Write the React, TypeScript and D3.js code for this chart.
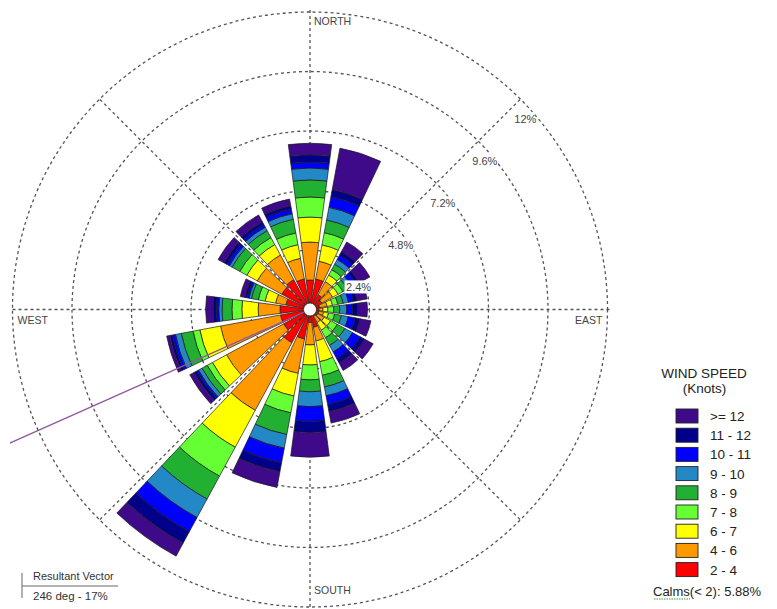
import React from 'react';
import * as d3 from 'd3';

// ---- data ----
const directions = [0, 18, 36, 54, 72, 90, 108, 126, 144, 162, 180, 198, 216, 234, 252, 270, 288, 306, 324, 342];
const speedLabels = ['2 - 4', '4 - 6', '6 - 7', '7 - 8', '8 - 9', '9 - 10', '10 - 11', '11 - 12', '>= 12'];
const speedColors = ['#ff0000', '#ff9900', '#ffff00', '#66ff33', '#22b033', '#2389c6', '#0000ff', '#00008b', '#3f0a8a'];

// percent frequency per direction, one array per speed class
const s2to4 = [1.19, 1.25, 0.68, 0.54, 0.4, 0.36, 0.36, 0.35, 0.3, 0.73, 0.52, 1.21, 1.53, 1.21, 1.21, 1.21, 0.99, 1.29, 1.37, 1.25];
const s4to6 = [1.53, 0.73, 0.6, 0.5, 0.3, 0.16, 0.2, 0.3, 0.3, 0.56, 0.91, 1.41, 3.1, 2.62, 2.46, 0.88, 0.42, 1.13, 1.13, 0.85];
const s6to7 = [1.01, 0.67, 0.3, 0.25, 0.22, 0.2, 0.2, 0.3, 0.35, 0.85, 0.81, 0.93, 1.69, 0.65, 0.85, 0.66, 0.43, 0.48, 0.48, 0.56];
const s7to8 = [0.81, 0.5, 0.25, 0.22, 0.22, 0.24, 0.25, 0.3, 0.35, 0.56, 0.6, 0.69, 1.33, 0.24, 0.28, 0.4, 0.28, 0.32, 0.32, 0.48];
const s8to9 = [0.69, 0.52, 0.25, 0.22, 0.22, 0.24, 0.28, 0.35, 0.35, 0.48, 0.48, 0.89, 1.05, 0.24, 0.48, 0.4, 0.28, 0.36, 0.32, 0.56];
const s9to10 = [0.48, 0.52, 0.22, 0.2, 0.22, 0.28, 0.28, 0.35, 0.3, 0.36, 0.6, 0.56, 0.85, 0.16, 0.24, 0.13, 0.1, 0.12, 0.16, 0.23];
const s10to11 = [0.24, 0.44, 0.2, 0.2, 0.2, 0.24, 0.28, 0.35, 0.3, 0.36, 0.6, 0.6, 0.65, 0.08, 0.12, 0.1, 0.08, 0.12, 0.12, 0.18];
const s11to12 = [0.28, 0.28, 0.15, 0.12, 0.15, 0.2, 0.2, 0.2, 0.2, 0.28, 0.44, 0.36, 0.52, 0.12, 0.1, 0.13, 0.08, 0.12, 0.12, 0.14];
const s12plus = [0.48, 1.71, 0.45, 0.5, 0.42, 0.4, 0.45, 0.4, 0.35, 0.48, 1.0, 0.65, 0.6, 0.2, 0.14, 0.3, 0.2, 0.28, 0.32, 0.28];

const ringTicks = [2.4, 4.8, 7.2, 9.6, 12];
const ringLabels = ['2.4%', '4.8%', '7.2%', '9.6%', '12%'];
const compassBearings = [0, 90, 180, 270];
const compassLabels = ['NORTH', 'EAST', 'SOUTH', 'WEST'];
const resultantDir = 246;
const resultantPct = 17;
const calmsPct = 5.88;

const classes = [s2to4, s4to6, s6to7, s7to8, s8to9, s9to10, s10to11, s11to12, s12plus];

export default function App() {
  const W = 777, H = 609;
  const cx = 310, cy = 309.5, R = 297.5;
  const r = d3.scaleLinear().domain([0, 12]).range([0, R]);
  const rad = (d: number) => (d * Math.PI) / 180;
  const pt = (b: number, rr: number): [number, number] => [cx + rr * Math.sin(rad(b)), cy - rr * Math.cos(rad(b))];
  const arc = d3.arc<any>();
  const half = 7.5;
  const font = 'Liberation Sans, Arial, sans-serif';

  const segs: { d: string; fill: string; key: string }[] = [];
  directions.forEach((dir, i) => {
    let acc = 0;
    classes.forEach((arr, k) => {
      const inner = acc;
      acc += arr[i];
      segs.push({
        key: `${i}-${k}`,
        fill: speedColors[k],
        d: arc({ innerRadius: r(inner), outerRadius: r(acc), startAngle: rad(dir - half), endAngle: rad(dir + half) }) as string,
      });
    });
  });

  const grid = { stroke: '#555', strokeWidth: 1.3, strokeDasharray: '3,3', fill: 'none' };
  const resEnd = pt(resultantDir, r(resultantPct));

  const legX = 676, legY0 = 409, legStep = 19.2;
  const legendOrder = d3.range(speedLabels.length).reverse();

  return (
    <div style={{ position: 'absolute', left: 0, top: 0 }}>
      <svg width={W} height={H} style={{ display: 'block', background: '#fff' }}>
        <defs>
          <clipPath id="plotclip">
            <rect x={10} y={0} width={W - 10} height={H} />
          </clipPath>
        </defs>
        {/* grid */}
        {ringTicks.map((t) => (
          <circle key={t} cx={cx} cy={cy} r={r(t)} {...grid} />
        ))}
        {[0, 90].map((b) => {
          const a = pt(b, R + 2), c = pt(b + 180, R + 2);
          return <line key={b} x1={a[0]} y1={a[1]} x2={c[0]} y2={c[1]} {...grid} />;
        })}
        {[45, 135, 225, 315].map((b) => {
          const a = pt(b, R);
          return <line key={b} x1={cx} y1={cy} x2={a[0]} y2={a[1]} {...grid} />;
        })}
        {/* bars */}
        <g transform={`translate(${cx},${cy})`}>
          {segs.map((s) => (
            <path key={s.key} d={s.d} fill={s.fill} stroke="#1a1a1a" strokeWidth={0.7} strokeLinejoin="round" />
          ))}
        </g>
        {/* resultant vector */}
        <line x1={cx} y1={cy} x2={resEnd[0]} y2={resEnd[1]} stroke="#8e5a9e" strokeWidth={1.3} clipPath="url(#plotclip)" />
        {/* center calm circle */}
        <circle cx={cx} cy={cy} r={6.5} fill="#fff" stroke="#222" strokeWidth={0.8} />
        {/* ring labels */}
        {ringTicks.map((t, i) => {
          const p = pt(45, r(t));
          const x = p[0] - 6, y = p[1] + 23.5;
          const w = ringLabels[i].length * 6.3 + 2;
          return (
            <g key={t}>
              <rect x={x - 1.5} y={y - 10.5} width={w} height={13} fill="#fff" />
              <text x={x} y={y} fontFamily={font} fontSize={11} fill="#444">{ringLabels[i]}</text>
            </g>
          );
        })}
        {/* compass labels */}
        {compassBearings.map((b, i) => {
          let x = 0, y = 0, anchor: any = 'start';
          if (b === 0) { x = cx + 4; y = cy - R + 13; }
          else if (b === 180) { x = cx + 4; y = cy + R - 13; }
          else if (b === 270) { x = cx - R + 5; y = cy + 14; }
          else { x = cx + R - 5; y = cy + 14; anchor = 'end'; }
          return <text key={b} x={x} y={y} textAnchor={anchor} fontFamily={font} fontSize={10.5} fill="#444">{compassLabels[i]}</text>;
        })}
        {/* legend */}
        <text x={704} y={378} textAnchor="middle" fontFamily={font} fontSize={13.5} fill="#222">WIND SPEED</text>
        <text x={704.5} y={393} textAnchor="middle" fontFamily={font} fontSize={13.5} fill="#222">(Knots)</text>
        {legendOrder.map((k, j) => (
          <g key={k}>
            <rect x={legX} y={legY0 + j * legStep} width={22} height={14} fill={speedColors[k]} stroke="#222" strokeWidth={0.9} />
            <text x={710} y={legY0 + j * legStep + 12} fontFamily={font} fontSize={13.5} fill="#222">{speedLabels[k]}</text>
          </g>
        ))}
        <text x={653} y={596} fontFamily={font} fontSize={13} fill="#222">{`Calms(< 2): ${calmsPct.toFixed(2)}%`}</text>
        <line x1={654} y1={599} x2={690} y2={599} stroke="#3a9a3a" strokeWidth={1} strokeDasharray="1.5,1" />
        {/* resultant legend */}
        <line x1={22} y1={573} x2={22} y2={598} stroke="#666" strokeWidth={1} />
        <line x1={22} y1={586} x2={118} y2={586} stroke="#666" strokeWidth={1} />
        <text x={33} y={580} fontFamily={font} fontSize={11} fill="#333">Resultant Vector</text>
        <text x={33} y={600} fontFamily={font} fontSize={11.5} fill="#333">{`${resultantDir} deg - ${resultantPct}%`}</text>
      </svg>
    </div>
  );
}
